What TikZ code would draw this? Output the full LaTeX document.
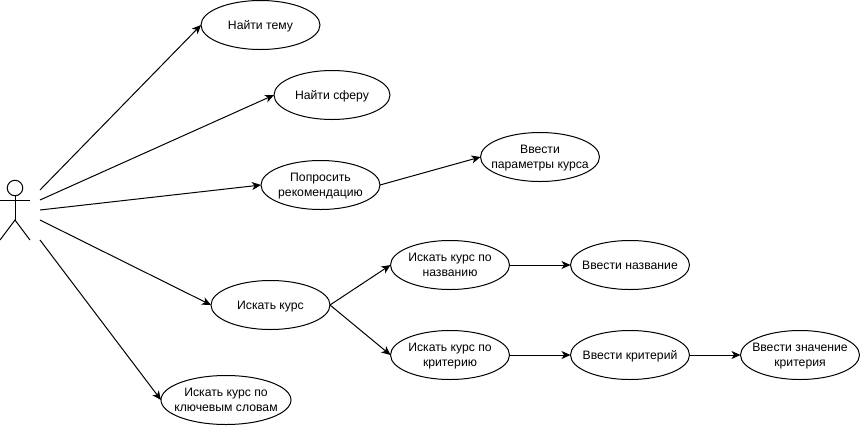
\documentclass[tikz,border=0pt]{standalone}
\usepackage{fontspec}
\setmainfont{Liberation Sans}
\usetikzlibrary{shapes.geometric,arrows.meta}

\begin{document}
\begin{tikzpicture}[
            x = 1pt, y = -1pt,
            line width = 1pt,
            usecase/.style = {draw, ellipse, minimum width = 119pt, minimum height = 49pt,
                              inner xsep = -20pt, inner ysep = -10pt, outer sep = 0pt, align = center,
                              text depth = 0pt, font = \fontsize{12.2}{15.5}\selectfont},
            link/.style = {-{Stealth[length = 9pt, width = 8pt, inset = 2.5pt]}}
            ]
            \useasboundingbox (0,0) rectangle (860,432);

            % actor
            \node[draw, circle, minimum size = 15.5pt, inner sep = 0pt, outer sep = 0pt] (head) at (15,188) {};
            \coordinate (hip) at (15,220);
            \coordinate (armL) at (0,200);
            \coordinate (armR) at (30,200);
            \coordinate (legL) at (0,240);
            \coordinate (legR) at (30,240);
            \draw (head.south) -- (hip);
            \draw (armL) -- (armR);
            \draw (legL) -- (hip) -- (legR);

            % free ends beside the actor
            \coordinate (start1) at (40,190);
            \coordinate (start2) at (40,200);
            \coordinate (start3) at (40,210);
            \coordinate (start4) at (40,220);
            \coordinate (start5) at (40,240);

            % use cases
            \node[usecase] (topic) at (260.5,25) {Найти тему};
            \node[usecase, minimum width = 116pt] (field) at (332,95) {Найти сферу};
            \node[usecase] (advice) at (320.5,185) {Попросить\\рекомендацию};
            \node[usecase] (params) at (540,157) {Ввести\\параметры курса};
            \node[usecase] (search) at (270.5,305) {Искать курс};
            \node[usecase] (byname) at (450,265) {Искать курс по\\названию};
            \node[usecase] (bycrit) at (450,355) {Искать курс по\\критерию};
            \node[usecase] (name) at (630,265) {Ввести название};
            \node[usecase] (crit) at (630,355) {Ввести критерий};
            \node[usecase] (value) at (800,355) {Ввести значение\\критерия};
            \node[usecase, minimum width = 130pt] (keywords) at (226,400) {Искать курс по\\ключевым словам};

            \draw[link] (start1) -- (topic.west);
            \draw[link] (start2) -- (field.west);
            \draw[link] (start3) -- (advice.west);
            \draw[link] (start4) -- (search.west);
            \draw[link] (start5) -- (keywords.west);
            \draw[link] (advice.east) -- (params.west);
            \draw[link] (search.east) -- (byname.west);
            \draw[link] (search.east) -- (bycrit.west);
            \draw[link] (byname.east) -- (name.west);
            \draw[link] (bycrit.east) -- (crit.west);
            \draw[link] (crit.east) -- (value.west);
          \end{tikzpicture}
\end{document}
